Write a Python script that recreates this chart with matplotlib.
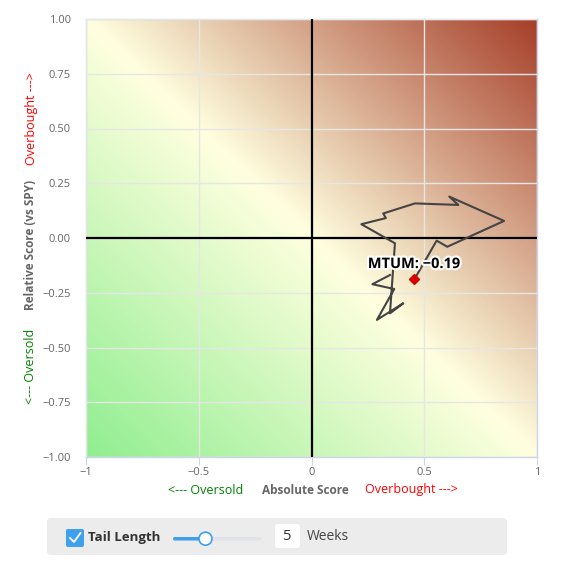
import matplotlib
matplotlib.use('Agg')
import matplotlib.pyplot as plt
import numpy as np
from matplotlib.colors import LinearSegmentedColormap
from matplotlib.patches import FancyBboxPatch, Circle
import matplotlib.patheffects as pe

plt.rcParams['font.family'] = ['Open Sans', 'DejaVu Sans']

# tail of MTUM, oldest first, last point is the current one
abs_score = [0.348, 0.270, 0.367, 0.290, 0.407, 0.348, 0.370, 0.221, 0.330,
             0.318, 0.459, 0.651, 0.611, 0.854, 0.602, 0.555, 0.456]
rel_score = [-0.169, -0.211, -0.233, -0.374, -0.298, -0.344, -0.024, 0.063, 0.091,
             0.112, 0.158, 0.151, 0.189, 0.078, -0.040, -0.012, -0.189]
ticker = 'MTUM'
tail_weeks = 5
x_ticks = [-1, -0.5, 0, 0.5, 1]
y_ticks = [-1.0, -0.75, -0.5, -0.25, 0.0, 0.25, 0.5, 0.75, 1.0]

W, H = 563, 586
fig = plt.figure(figsize=(W / 100, H / 100), dpi=100)
ax = fig.add_axes([86 / W, 1 - 457 / H, 451 / W, 438 / H])

# background gradient by x + y
cmap = LinearSegmentedColormap.from_list('ob', ['#90ee90', '#ffffdf', '#a63f2a'])
g = np.linspace(-1, 1, 300)
gx, gy = np.meshgrid(g, g)
ax.imshow(gx + gy, extent=[-1, 1, -1, 1], origin='lower', cmap=cmap,
          vmin=-2, vmax=2, aspect='auto', zorder=0, interpolation='bilinear')

ax.set_xlim(-1, 1)
ax.set_ylim(-1, 1)
ax.set_xticks(x_ticks)
ax.set_xticklabels(['\u22121', '\u22120.5', '0', '0.5', '1'])
ax.set_yticks(y_ticks)
ax.set_yticklabels([f'{v:.2f}'.replace('-', '\u2212') for v in y_ticks])
ax.tick_params(colors='#666666', labelsize=8, length=0, pad=11)
ax.tick_params(axis='x', length=6, color='#ccd6eb', direction='out', pad=1)
ax.grid(True, color='#e6e6e6', lw=1, zorder=1)
ax.set_axisbelow(False)
for s in ax.spines.values():
    s.set_color('#ccd6eb')
    s.set_linewidth(1)

ax.axhline(0, color='black', lw=1.6, zorder=2.8)
ax.axvline(0, color='black', lw=1.6, zorder=2.8)

ax.plot(abs_score, rel_score, color='#444444', lw=1.5, zorder=3)
ax.plot(abs_score[-1], rel_score[-1], marker='D', color='#d40000', ms=5, zorder=4)
ax.annotate(f'{ticker}: {rel_score[-1]:.2f}'.replace('-', '\u2212'),
            (abs_score[-1], rel_score[-1]), xytext=(0, 6), textcoords='offset points',
            ha='center', va='bottom', fontsize=10.5, fontweight='bold', color='black',
            path_effects=[pe.withStroke(linewidth=3, foreground='white')], zorder=5)

# axis titles in three colours
fig.text(206 / W, 1 - 490 / H, '<--- Oversold', color='green', fontsize=9, ha='center', va='center')
fig.text(305 / W, 1 - 490 / H, 'Absolute Score', color='#666666', fontsize=8.5,
         fontweight='bold', ha='center', va='center')
fig.text(411 / W, 1 - 490 / H, 'Overbought --->', color='red', fontsize=9, ha='center', va='center')
fig.text(31 / W, 1 - 366 / H, '<--- Oversold', color='green', fontsize=9, rotation=90,
         ha='center', va='center')
fig.text(31 / W, 1 - 245 / H, 'Relative Score (vs SPY)', color='#666666', fontsize=8.5,
         fontweight='bold', rotation=90, ha='center', va='center')
fig.text(31 / W, 1 - 119 / H, 'Overbought --->', color='red', fontsize=9, rotation=90,
         ha='center', va='center')

# tail length control below the chart
ctl = fig.add_axes([0, 0, 1, 1])
ctl.set_xlim(0, W)
ctl.set_ylim(H, 0)
ctl.axis('off')
ctl.add_patch(FancyBboxPatch((47, 518), 460, 37, boxstyle='round,pad=0,rounding_size=4',
                             fc='#ececec', ec='none'))
ctl.add_patch(FancyBboxPatch((66, 529), 18, 18, boxstyle='round,pad=0,rounding_size=2',
                             fc='#3fa0ed', ec='none'))
ctl.plot([70, 74, 80.5], [538, 542, 533], color='white', lw=1.3)
ctl.text(88, 537, 'Tail Length', fontsize=9.5, fontweight='bold', color='#333333', va='center')
ctl.add_patch(FancyBboxPatch((173, 537), 89, 3.5, boxstyle='round,pad=0,rounding_size=1.7',
                             fc='#e0e3e8', ec='none'))
ctl.add_patch(FancyBboxPatch((173, 537), 32, 3.5, boxstyle='round,pad=0,rounding_size=1.7',
                             fc='#3fa0ed', ec='none'))
ctl.add_patch(Circle((205.5, 538.7), 6.5, fc='white', ec='#3fa0ed', lw=1.2, zorder=3))
ctl.add_patch(FancyBboxPatch((275, 524), 25, 24, boxstyle='round,pad=0,rounding_size=3',
                             fc='white', ec='none'))
ctl.text(287.5, 536.5, str(tail_weeks), fontsize=10.5, color='#333333', ha='center', va='center')
ctl.text(306.5, 537, 'Weeks', fontsize=10, color='#444444', va='center')

fig.savefig('out.png', dpi=100)
